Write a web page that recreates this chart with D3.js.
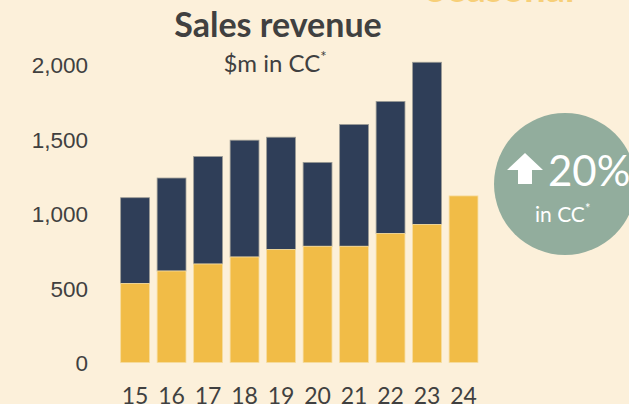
<!DOCTYPE html>
<html><head><meta charset="utf-8">
<script src="https://cdn.jsdelivr.net/npm/d3@7"></script>
<style>
html,body{margin:0;padding:0;background:#fcf0da;}
svg{display:block;}
</style></head>
<body>
<svg id="chart" width="629" height="404"></svg>
<script>
const years = ["15","16","17","18","19","20","21","22","23","24"];
const baseValues = [530, 614, 661, 708, 758, 780, 780, 865, 926, 1118];
const totalValues = [1106, 1238, 1382, 1492, 1512, 1343, 1597, 1752, 2015, null];
const yTicks = [0, 500, 1000, 1500, 2000];

const svg = d3.select("#chart");
svg.append("rect").attr("width",629).attr("height",404).attr("fill","#fcf0da");

const x = d3.scaleBand().domain(years).range([117, 481.6]).paddingInner(0.21).paddingOuter(0.1);
const y = d3.scaleLinear().domain([0, 2000]).range([362.5, 64.5]);

const gBars = svg.append("g");
years.forEach((yr, i) => {
  const b = baseValues[i], t = totalValues[i];
  if (t != null) {
    gBars.append("rect").attr("x", x(yr)).attr("width", x.bandwidth())
      .attr("y", y(t)).attr("height", y(b) - y(t))
      .attr("fill", "#2f3e58").attr("stroke", "#9a9a94").attr("stroke-width", 0.8);
  }
  gBars.append("rect").attr("x", x(yr)).attr("width", x.bandwidth())
    .attr("y", y(b)).attr("height", y(0) - y(b))
    .attr("fill", "#f1bc47").attr("stroke", "#f6dc9e").attr("stroke-width", 0.8);
});

const yAxis = d3.axisLeft(y).tickValues(yTicks).tickFormat(d3.format(",")).tickSize(0).tickPadding(0);
const gy = svg.append("g").attr("transform", "translate(88,0)").call(yAxis);
gy.select(".domain").remove();
gy.selectAll("text").attr("font-family", "'Liberation Sans', Arial, sans-serif")
  .attr("font-size", 22.5).attr("fill", "#404040").attr("dy", "0.36em");

const xAxis = d3.axisBottom(x).tickSize(0).tickPadding(0);
const gx = svg.append("g").attr("transform", "translate(0,403.5)").call(xAxis);
gx.select(".domain").remove();
gx.selectAll("text").attr("font-family", "Lato, sans-serif").attr("font-size", 23)
  .attr("fill", "#404040").attr("dy", 0);

svg.append("text").attr("x", 278).attr("y", 37).attr("text-anchor", "middle")
  .attr("font-family", "Lato, sans-serif").attr("font-weight", "bold").attr("font-size", 34)
  .attr("fill", "#404040").text("Sales revenue");
const sub = svg.append("text").attr("x", 275).attr("y", 72).attr("text-anchor", "middle")
  .attr("font-family", "Lato, sans-serif").attr("font-size", 24).attr("fill", "#404040");
sub.append("tspan").text("$m in CC");
sub.append("tspan").attr("font-size", 15).attr("dy", -10).text("*");

svg.append("text").attr("x", 500).attr("y", 2).attr("text-anchor", "middle")
  .attr("font-family", "Lato, sans-serif").attr("font-weight", "bold").attr("font-size", 38)
  .attr("fill", "#f7cf78").text("Seasonal");

const cx = 565, cy = 184;
svg.append("circle").attr("cx", cx).attr("cy", cy).attr("r", 71).attr("fill", "#92ad9d");
svg.append("path").attr("fill", "#ffffff")
  .attr("d", "M525,153 L543,170 L532,170 L532,184 L518,184 L518,170 L507,170 Z");
svg.append("text").attr("x", 548).attr("y", 186).attr("font-family", "Lato, sans-serif")
  .attr("font-size", 42).attr("fill", "#ffffff").text("20%");
const cc = svg.append("text").attr("x", 535).attr("y", 222).attr("font-family", "Lato, sans-serif")
  .attr("font-size", 21).attr("fill", "#ffffff");
cc.append("tspan").text("in CC");
cc.append("tspan").attr("font-size", 13).attr("dy", -9).text("*");
</script>
</body></html>
